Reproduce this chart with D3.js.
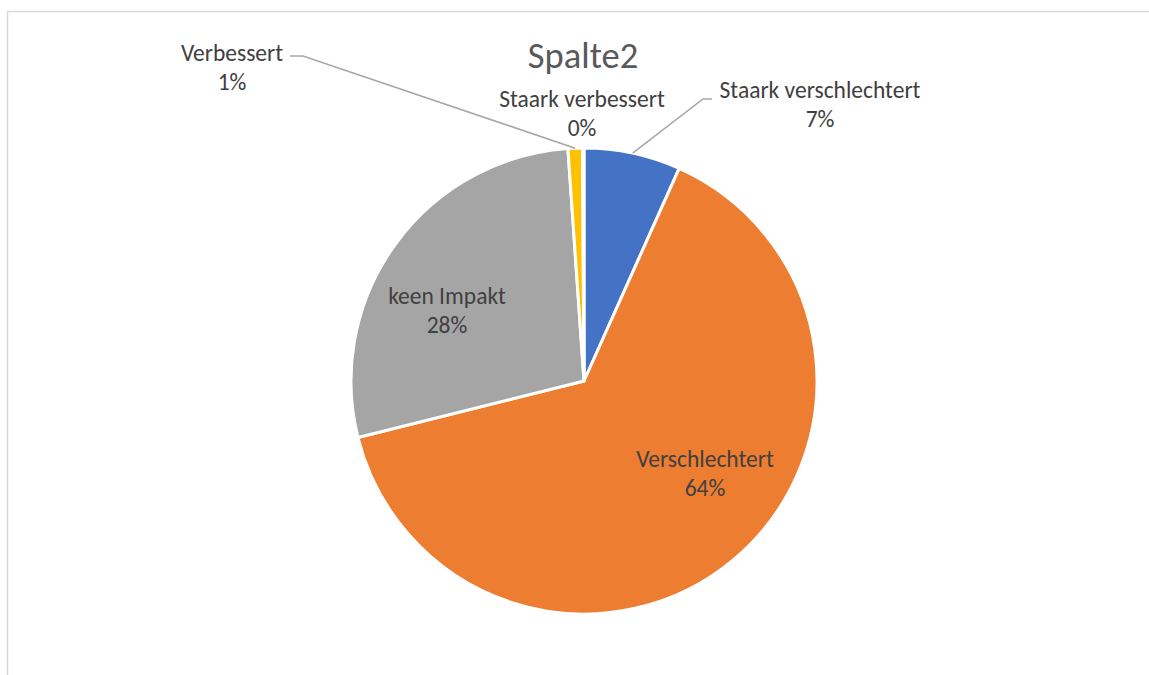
<!DOCTYPE html>
<html>
<head>
<meta charset="utf-8">
<script src="https://cdn.jsdelivr.net/npm/d3@7"></script>
<style>
  body { margin: 0; background: #fff; }
  svg { display: block; }
</style>
</head>
<body>
<svg class="chart-spalte" width="1149" height="675"></svg>
<script>
//------------------------------------------------------------
//---------------------------DADOS----------------------------
var categorias = ["Staark verschlechtert", "Verschlechtert", "keen Impakt", "Verbessert", "Staark verbessert"];
var valores = [6.7, 64.4, 27.8, 1.0, 0.1];
var rotulosPct = ["7%", "64%", "28%", "1%", "0%"];
var cores = ["#4472C4", "#ED7D31", "#A5A5A5", "#FFC000", "#5B9BD5"];
var titulo = "Spalte2";

//posicao dos rotulos (centro x, linha de base da primeira linha) e se tem linha guia
var rotuloLayout = [
  { x: 820, y: 98, guia: [[703, 99], [712, 99]] },
  { x: 705, y: 467, guia: null },
  { x: 447, y: 304, guia: null },
  { x: 232, y: 61, guia: [[303, 56], [290, 56]] },
  { x: 582, y: 107, guia: null }
];

var w = 1149, h = 675;
var cx = 584, cy = 381, raio = 233;
var fonte = "Carlito, Lato, 'Open Sans', sans-serif";

var svg = d3.select(".chart-spalte");

//-----------------------------------moldura
svg.append("rect")
  .attr("x", 7.5)
  .attr("y", 11.5)
  .attr("width", w)
  .attr("height", h)
  .attr("fill", "white")
  .attr("stroke", "#D9D9D9")
  .attr("stroke-width", 1.5);

//-----------------------------------titulo
svg.append("text")
  .text(titulo)
  .attr("x", 583)
  .attr("y", 68)
  .attr("text-anchor", "middle")
  .attr("font-family", fonte)
  .attr("font-size", "36.5px")
  .attr("fill", "#595959");

//-----------------------------------pizza
var dataset = d3.pie().sort(null).value(function(d) { return d.valor; })(
  categorias.map(function(c, i) {
    return { nome: c, valor: valores[i], pct: rotulosPct[i], cor: cores[i], layout: rotuloLayout[i] };
  })
);

var arco = d3.arc().innerRadius(0).outerRadius(raio);
var arcoBorda = d3.arc().innerRadius(raio).outerRadius(raio);

var g = svg.append("g").attr("transform", "translate(" + cx + "," + cy + ")");

g.selectAll("path.fatia")
  .data(dataset)
  .enter()
  .append("path")
  .attr("class", "fatia")
  .attr("d", arco)
  .attr("fill", function(d) { return d.data.cor; })
  .attr("stroke", "white")
  .attr("stroke-width", 3)
  .attr("stroke-linejoin", "round");

//-----------------------------------linhas guia
svg.selectAll("polyline.guia")
  .data(dataset.filter(function(d) { return d.data.layout.guia; }))
  .enter()
  .append("polyline")
  .attr("class", "guia")
  .attr("points", function(d) {
    var p = arcoBorda.centroid(d);
    var pts = [[cx + p[0], cy + p[1]]].concat(d.data.layout.guia);
    return pts.map(function(q) { return q.join(","); }).join(" ");
  })
  .attr("fill", "none")
  .attr("stroke", "#A6A6A6")
  .attr("stroke-width", 1.5);

//-----------------------------------rotulos
var rotulos = svg.selectAll("text.rotulo")
  .data(dataset)
  .enter()
  .append("text")
  .attr("class", "rotulo")
  .attr("text-anchor", "middle")
  .attr("font-family", fonte)
  .attr("font-size", "23.5px")
  .attr("fill", "#404040");

rotulos.append("tspan")
  .attr("x", function(d) { return d.data.layout.x; })
  .attr("y", function(d) { return d.data.layout.y; })
  .text(function(d) { return d.data.nome; });

rotulos.append("tspan")
  .attr("x", function(d) { return d.data.layout.x; })
  .attr("y", function(d) { return d.data.layout.y + 29; })
  .text(function(d) { return d.data.pct; });
</script>
</body>
</html>
